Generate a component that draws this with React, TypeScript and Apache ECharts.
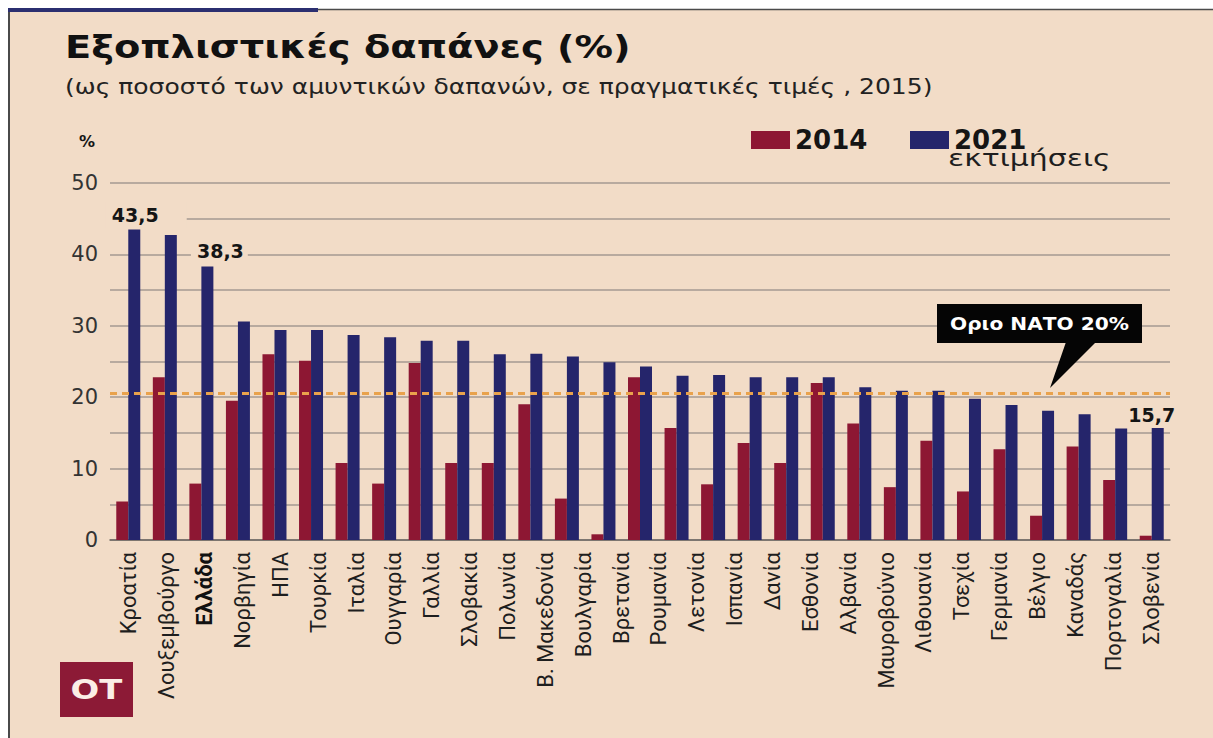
import React, { useEffect, useRef } from 'react';
import * as echarts from 'echarts';

// Bars (29 pairs drawn in the source; one pair carries no printed label)
const barCategories = [
  'Κροατία', 'Λουξεμβούργο', 'Ελλάδα', 'Νορβηγία', 'ΗΠΑ', 'Τουρκία', 'Ιταλία', 'Ουγγαρία',
  'Γαλλία', 'Σλοβακία', '', 'Πολωνία', 'Β. Μακεδονία', 'Βουλγαρία', 'Βρετανία', 'Ρουμανία',
  'Λετονία', 'Ισπανία', 'Δανία', 'Εσθονία', 'Αλβανία', 'Μαυροβούνιο', 'Λιθουανία', 'Τσεχία',
  'Γερμανία', 'Βέλγιο', 'Καναδάς', 'Πορτογαλία', 'Σλοβενία',
];

// Printed category labels (28, evenly spread along the axis)
const axisLabels = [
  'Κροατία', 'Λουξεμβούργο', 'Ελλάδα', 'Νορβηγία', 'ΗΠΑ', 'Τουρκία', 'Ιταλία', 'Ουγγαρία',
  'Γαλλία', 'Σλοβακία', 'Πολωνία', 'Β. Μακεδονία', 'Βουλγαρία', 'Βρετανία', 'Ρουμανία',
  'Λετονία', 'Ισπανία', 'Δανία', 'Εσθονία', 'Αλβανία', 'Μαυροβούνιο', 'Λιθουανία', 'Τσεχία',
  'Γερμανία', 'Βέλγιο', 'Καναδάς', 'Πορτογαλία', 'Σλοβενία',
];

const values2014 = [
  5.4, 22.8, 7.9, 19.5, 26.0, 25.1, 10.8, 7.9, 24.8, 10.8, 10.8, 19.0, 5.8, 0.8, 22.8, 15.7,
  7.8, 13.6, 10.8, 22.0, 16.3, 7.4, 13.9, 6.8, 12.7, 3.4, 13.1, 8.4, 0.6,
];

const values2021 = [
  43.5, 42.7, 38.3, 30.6, 29.4, 29.4, 28.7, 28.4, 27.9, 27.9, 26.0, 26.1, 25.7, 24.9, 24.3, 23.0,
  23.1, 22.8, 22.8, 22.8, 21.4, 20.9, 20.9, 19.8, 18.9, 18.1, 17.6, 15.6, 15.7,
];

const labelledBars = ['Κροατία', 'Ελλάδα', 'Σλοβενία'];
const seriesNames = ['2014', '2021'];
const natoLimit = 20.5;
const yMin = 0;
const yMax = 50;
const yStep = 5;

const titleText = 'Εξοπλιστικές δαπάνες (%)';
const subtitleText = '(ως ποσοστό των αμυντικών δαπανών, σε πραγματικές τιμές , 2015)';
const estimateNote = 'εκτιμήσεις';
const natoNote = 'Οριο ΝΑΤΟ 20%';

const BG = '#f2dcc7';
const RED = '#8d1733';
const NAVY = '#25256b';
const FONT = 'DejaVu Sans';

export default function App() {
  const ref = useRef<HTMLDivElement>(null);

  useEffect(() => {
    document.body.style.margin = '0';
    if (!ref.current) return;
    const chart = echarts.init(ref.current, undefined, { renderer: 'svg' });

    const labelCfg: Record<string, any> = {
      'Κροατία': {
        position: 'top', distance: 2, offset: [12, 0],
        backgroundColor: BG, padding: [3, 28, 3, 6],
      },
      'Ελλάδα': {
        position: 'top', distance: 2, offset: [12, -1],
        backgroundColor: BG, padding: [3, 4, 3, 6],
      },
      'Σλοβενία': {
        position: 'top', distance: 3, offset: [-6, 0],
      },
    };

    const data2021 = values2021.map((v, i) => {
      const name = barCategories[i];
      if (labelledBars.includes(name) && labelCfg[name]) {
        return {
          value: v,
          label: {
            show: true,
            ...labelCfg[name],
            formatter: (p: any) => String(p.value).replace('.', ','),
            fontFamily: FONT,
            fontWeight: 'bold',
            fontSize: 19,
            color: '#151515',
          },
        };
      }
      return v;
    });

    const legendText = { fontFamily: FONT, fontWeight: 'bold', fontSize: 26, color: '#151515' };

    chart.setOption({
      animation: false,
      backgroundColor: BG,
      legend: [
        {
          data: [seriesNames[0]],
          left: 746, top: 122,
          icon: 'rect', itemWidth: 39, itemHeight: 18,
          textStyle: legendText,
        },
        {
          data: [seriesNames[1]],
          left: 905, top: 122,
          icon: 'rect', itemWidth: 39, itemHeight: 18,
          textStyle: legendText,
        },
      ],
      grid: { left: 110, right: 43, top: 183, bottom: 198 },
      xAxis: [
        {
          type: 'category',
          data: barCategories,
          position: 'bottom',
          axisLine: { lineStyle: { color: '#6a6460', width: 1.5 } },
          axisTick: { show: false },
          axisLabel: { show: false },
        },
        {
          type: 'category',
          data: axisLabels,
          position: 'bottom',
          offset: 0,
          axisLine: { show: false },
          axisTick: { show: false },
          splitLine: { show: false },
          axisLabel: {
            rotate: 90,
            margin: 12,
            interval: 0,
            fontFamily: 'Roboto',
            fontSize: 22,
            color: '#1e1e1e',
            formatter: (v: string) => (v === 'Ελλάδα' ? '{b|' + v + '}' : v),
            rich: { b: { fontFamily: 'Roboto', fontWeight: 'bold', fontSize: 22, color: '#111' } },
          },
        },
      ],
      yAxis: {
        type: 'value',
        min: yMin,
        max: yMax,
        interval: yStep,
        axisLine: { show: false },
        axisTick: { show: false },
        axisLabel: {
          fontFamily: FONT,
          fontSize: 21,
          color: '#333',
          margin: 12,
          padding: [0, 0, 8, 0],
          formatter: (v: number) => (v % 10 === 0 ? String(v) : ''),
        },
        splitLine: { lineStyle: { color: '#a59a92', width: 1.5 } },
      },
      series: [
        {
          name: seriesNames[0],
          type: 'bar',
          xAxisIndex: 0,
          data: values2014,
          barWidth: 12,
          barGap: '0%',
          itemStyle: { color: RED },
        },
        {
          name: seriesNames[1],
          type: 'bar',
          xAxisIndex: 0,
          data: data2021,
          barWidth: 12,
          barGap: '0%',
          itemStyle: { color: NAVY },
          markLine: {
            silent: true,
            symbol: 'none',
            label: { show: false },
            lineStyle: { type: [7, 5], color: '#e9a24c', width: 3 },
            data: [{ yAxis: natoLimit }],
          },
        },
      ],
      graphic: [
        { type: 'rect', shape: { x: 0, y: 0, width: 1213, height: 9 }, style: { fill: '#ffffff' } },
        { type: 'rect', shape: { x: 0, y: 0, width: 8, height: 738 }, style: { fill: '#ffffff' } },
        { type: 'line', shape: { x1: 8, y1: 9.5, x2: 1213, y2: 9.5 }, style: { stroke: '#4a4a4a', lineWidth: 1.5 } },
        { type: 'line', shape: { x1: 9, y1: 9, x2: 9, y2: 738 }, style: { stroke: '#4a4a4a', lineWidth: 2 } },
        { type: 'rect', shape: { x: 8, y: 8, width: 310, height: 4 }, style: { fill: '#2b2f70' } },
        {
          type: 'text', x: 65, y: 31, scaleX: 1.2,
          style: { text: titleText, fontFamily: FONT, fontWeight: 'bold', fontSize: 32, fill: '#111', align: 'left', verticalAlign: 'top' },
        },
        {
          type: 'text', x: 65, y: 76, scaleX: 1.19,
          style: { text: subtitleText, fontFamily: FONT, fontSize: 21, fill: '#222', align: 'left', verticalAlign: 'top' },
        },
        {
          type: 'text', x: 948, y: 146, scaleX: 1.3,
          style: { text: estimateNote, fontFamily: FONT, fontSize: 23, fill: '#1e1e1e', align: 'left', verticalAlign: 'top' },
        },
        {
          type: 'text', x: 79, y: 133,
          style: { text: '%', fontFamily: FONT, fontWeight: 'bold', fontSize: 16, fill: '#151515', align: 'left', verticalAlign: 'top' },
        },
        // NATO callout
        { type: 'rect', shape: { x: 937, y: 304, width: 205, height: 39 }, style: { fill: '#050505' }, z: 10 },
        { type: 'polygon', shape: { points: [[1066, 342], [1096, 342], [1050, 388]] }, style: { fill: '#050505' }, z: 10 },
        {
          type: 'text', x: 1039.5, y: 323.5, scaleX: 1.12, z: 11,
          style: {
            text: natoNote, fontFamily: FONT, fontWeight: 'bold', fontSize: 18,
            fill: '#ffffff', align: 'center', verticalAlign: 'middle',
          },
        },
        // logo
        { type: 'rect', shape: { x: 60, y: 662, width: 73, height: 55 }, style: { fill: '#8c1a36' } },
        {
          type: 'text', x: 96.5, y: 690, scaleX: 1.3,
          style: {
            text: 'OT', fontFamily: FONT, fontWeight: 'bold', fontSize: 26,
            fill: '#fbeee6', align: 'center', verticalAlign: 'middle',
          },
        },
      ],
    });

    return () => chart.dispose();
  }, []);

  return <div ref={ref} style={{ width: 1213, height: 738 }} />;
}
